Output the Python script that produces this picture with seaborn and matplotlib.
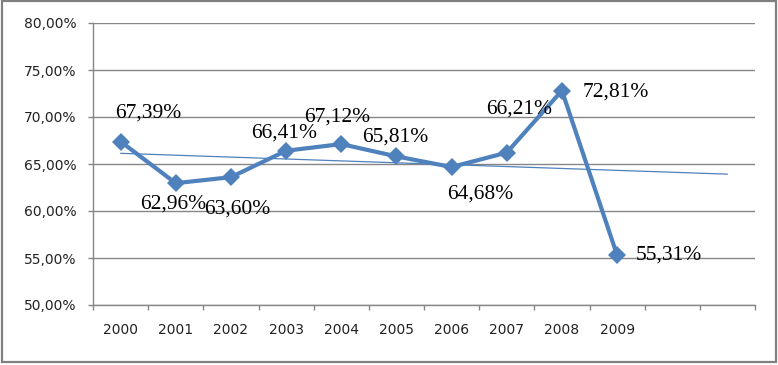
import numpy as np
import pandas as pd
import matplotlib
matplotlib.use("Agg")
import matplotlib.pyplot as plt
import seaborn as sns
from matplotlib.patches import Rectangle

years = ["2000", "2001", "2002", "2003", "2004", "2005", "2006", "2007", "2008", "2009"]
slots = years + ["", ""]
values = [67.39, 62.96, 63.60, 66.41, 67.12, 65.81, 64.68, 66.21, 72.81, 55.31]
yticks = [50, 55, 60, 65, 70, 75, 80]
label_offsets = [(28, 28), (-3, -21), (6, -32), (-2, 18), (-4, 27), (-1, 19),
                 (29, -27), (12, 44), (54, -1), (52, 0)]

sns.set_theme(style="white")
plt.rcParams['font.family'] = ['DejaVu Sans']

fig = plt.figure(figsize=(7.78, 3.65), dpi=100)
ax = fig.add_axes([93/778, 1-305/365, (755-93)/778, (305-23)/365])

df = pd.DataFrame({"x": np.arange(len(values)), "y": values})

# trend line (linear fit, extended over the full category range)
slope, intercept = np.polyfit(df["x"], df["y"], 1)
tx = np.arange(len(slots))
tdf = pd.DataFrame({"x": tx, "y": intercept + slope * tx})
sns.lineplot(data=tdf, x="x", y="y", ax=ax, color="#4F81BD", lw=0.9, zorder=2)

sns.lineplot(data=df, x="x", y="y", ax=ax, color="#4F81BD", lw=3,
             marker="D", markersize=9, markeredgewidth=0, zorder=3)

for i, (v, (dx, dy)) in enumerate(zip(values, label_offsets)):
    ax.annotate(f"{v:.2f}%".replace(".", ","), (i, v), xytext=(dx, dy),
                textcoords="offset pixels", ha="center", va="center",
                fontsize=15.5, family="Liberation Serif", color="black", zorder=4)

ax.set_xlim(-0.5, len(slots) - 0.5)
ax.set_ylim(50, 80)
ax.set_yticks(yticks)
ax.set_yticklabels([f"{t},00%" for t in yticks], fontsize=10, color="#222222")
ax.set_xticks(np.arange(len(slots)))
ax.set_xticklabels(slots, fontsize=10, color="#222222")
ax.set_xticks(np.arange(len(slots) + 1) - 0.5, minor=True)
ax.tick_params(axis="x", which="major", length=0, pad=13)
ax.tick_params(axis="x", which="minor", length=3.6, width=1, color="#868686", direction="out", bottom=True)
ax.tick_params(axis="y", length=3.6, width=1, color="#868686", direction="out", left=True, pad=8.5)
ax.set_xlabel("")
ax.set_ylabel("")

ax.grid(axis="y", color="#868686", lw=1)
ax.grid(axis="x", visible=False)
for s in ["top", "right"]:
    ax.spines[s].set_visible(False)
for s in ["left", "bottom"]:
    ax.spines[s].set_color("#868686")
    ax.spines[s].set_linewidth(1)

fig.patches.append(Rectangle((0.003, 0.008), 0.994, 0.988, transform=fig.transFigure,
                             fill=False, edgecolor="#808080", lw=1.6))

fig.savefig("out.png", dpi=100)
